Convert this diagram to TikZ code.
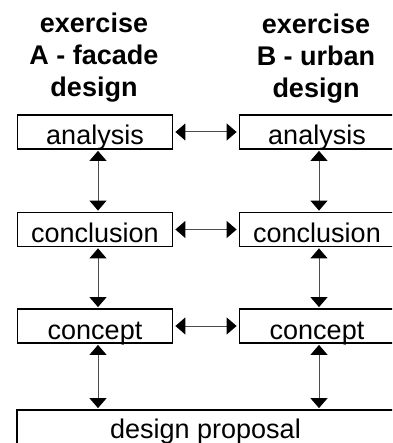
\documentclass[tikz,border=0pt]{standalone}
\usepackage{fontspec}
\setmainfont{Liberation Sans}
\usetikzlibrary{arrows.meta}

\tikzset{
  stagebox/.style={draw, line width=1.8pt, inner sep=0pt, minimum width=155pt,
    text height=30pt, text depth=4pt, font=\fontsize{27}{32}\selectfont},
  headline/.style={align=center, anchor=base, inner sep=0pt,
    font=\bfseries\fontsize{27}{32}\selectfont},
  link/.style={{Triangle[length=10pt,width=17pt,color=black]}-{Triangle[length=10pt,width=17pt,color=black]},
    line width=1pt, draw=black!70, shorten >=1pt, shorten <=1pt}
}

\begin{document}
\begin{tikzpicture}[x=1pt, y=-1pt]
\useasboundingbox (0,0) rectangle (392,443);
\clip (0,0) rectangle (392,443);

% headings of the two exercises (base = last line)
\node[headline] (headA) at (94,97) {exercise\\A - facade\\design};
\node[headline] (headB) at (316,98) {exercise\\B - urban\\design};

% the three stages of each exercise
\foreach \n/\t/\y in {an/analysis/132, co/conclusion/229.5, ce/concept/326} {
  \node[stagebox] (\n A) at (95,\y) {\t};
  \node[stagebox] (\n B) at (317,\y) {\t};
  \draw[link, shorten >=2pt, shorten <=2pt] (\n A) -- (\n B);
}

\node[stagebox, minimum width=377pt, text height=28pt, text depth=30pt] (prop) at (205.5,439) {design proposal};

\coordinate (colA) at (98,0);
\coordinate (colB) at (319,0);
\foreach \a/\b in {an/co, co/ce} {
  \draw[link] (\a A.south -| colA) -- (\b A.north -| colA);
  \draw[link] (\a B.south -| colB) -- (\b B.north -| colB);
}
\draw[link] (ceA.south -| colA) -- (prop.north -| colA);
\draw[link] (ceB.south -| colB) -- (prop.north -| colB);
\end{tikzpicture}
\end{document}
